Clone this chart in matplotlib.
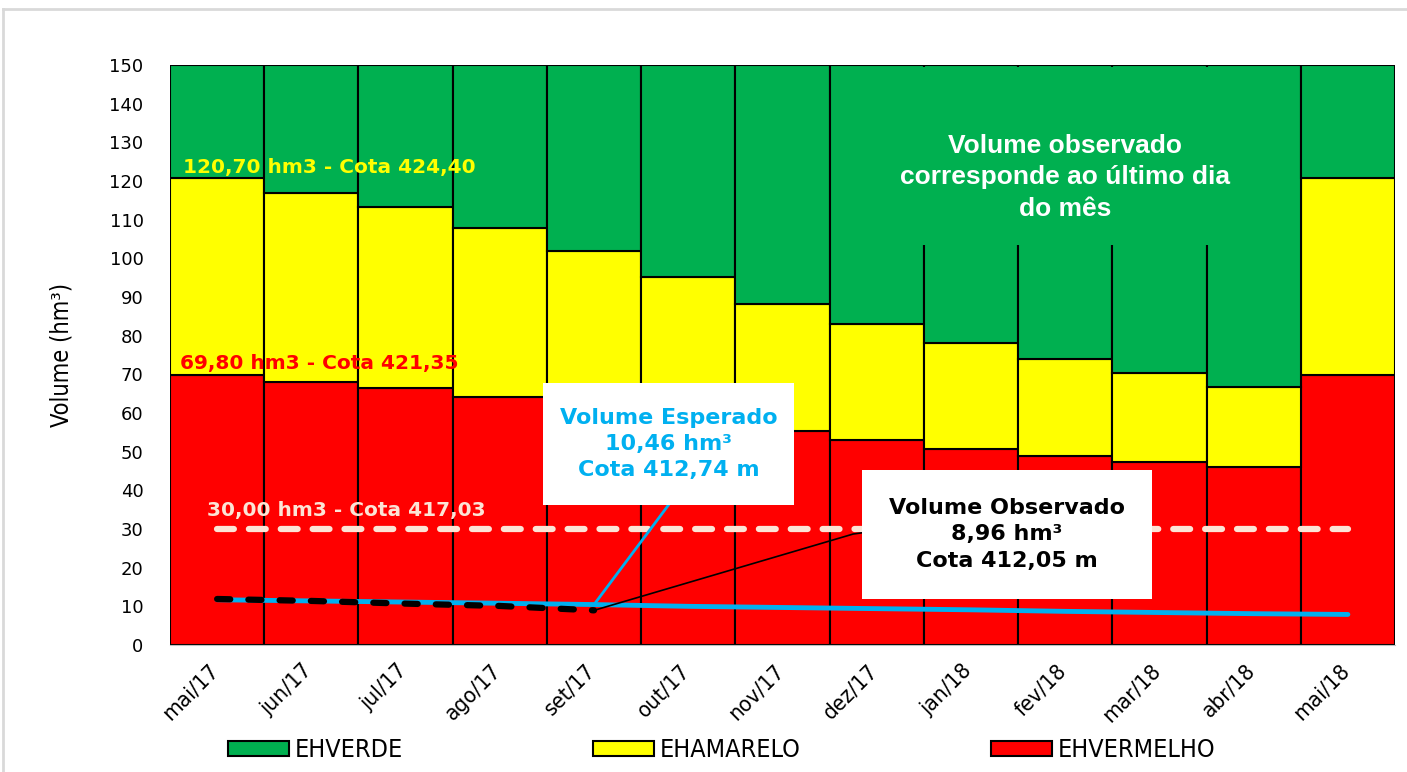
import numpy as np
import matplotlib.pyplot as plt
from matplotlib.lines import Line2D
from matplotlib.patches import Rectangle
from matplotlib.transforms import ScaledTranslation
from matplotlib.font_manager import FontProperties

# volume bands per month (hm3), stacked: vermelho + amarelo + verde = 150
meses = ["mai/17", "jun/17", "jul/17", "ago/17", "set/17", "out/17", "nov/17",
         "dez/17", "jan/18", "fev/18", "mar/18", "abr/18", "mai/18"]
ehvermelho = [69.8, 68.0, 66.5, 64.1, 61.6, 58.8, 55.3, 53.0, 50.7, 48.9, 47.3, 46.0, 69.8]
ehamarelo = [50.9, 48.9, 46.8, 43.7, 40.3, 36.4, 32.9, 30.0, 27.4, 25.1, 23.0, 20.7, 50.9]
ehverde = [29.3, 33.1, 36.7, 42.2, 48.1, 54.8, 61.8, 67.0, 71.9, 76.0, 79.7, 83.3, 29.3]

vol_esperado = [11.7, 11.4, 11.1, 10.8, 10.46, 10.0, 9.7, 9.4, 9.1, 8.7, 8.4, 8.1, 7.9]
vol_observado = [11.9, 11.4, 10.7, 10.1, 8.96]
limite_30 = 30.0

VERDE = "#00B050"
AMARELO = "#FFFF00"
VERMELHO = "#FF0000"
AZUL = "#00B0F0"
PESSEGO = "#FCE4D6"


def narrow(size):
    return FontProperties(family="DejaVu Sans", stretch="condensed", size=size)


fig = plt.figure(figsize=(14.07, 7.72), dpi=100)
ax = fig.add_axes([170 / 1407, 1 - 645 / 772, 1225 / 1407, 580 / 772])

x = np.arange(len(meses))
red = np.array(ehvermelho)
yel = np.array(ehamarelo)
grn = np.array(ehverde)

ax.bar(x, red, width=1.0, color=VERMELHO, edgecolor="black", linewidth=1.5, zorder=2)
ax.bar(x, yel, width=1.0, bottom=red, color=AMARELO, edgecolor="black", linewidth=1.5, zorder=2)
ax.bar(x, grn, width=1.0, bottom=red + yel, color=VERDE, edgecolor="black", linewidth=1.5, zorder=2)

# green note box hides the bar separators behind it
ax.add_patch(Rectangle((6.62, 103.5), 4.76, 46.0, facecolor=VERDE, edgecolor="none", zorder=3))
ax.text(9.0, 121.0, "Volume observado\ncorresponde ao último dia\ndo mês", color="white",
        fontsize=19, fontweight="bold", family=["Liberation Sans", "DejaVu Sans"],
        ha="center", va="center", linespacing=1.4, zorder=4)

# reference line at 30 hm3
ax.plot(x, [limite_30] * len(x), color=PESSEGO, lw=4.5, linestyle=(0, (2.7, 2.4)),
        dash_capstyle="round", zorder=5)

ax.plot(x, vol_esperado, color=AZUL, lw=3.5, solid_capstyle="round", zorder=6)
ax.plot(x[:len(vol_observado)], vol_observado, color="black", lw=4.5,
        linestyle=(0, (2.1, 2.9)), dash_capstyle="round", zorder=7)

ax.text(-0.36, 123.6, "120,70 hm3 - Cota 424,40", color=AMARELO, fontsize=14.5,
        fontweight="bold", va="center", zorder=8)
ax.text(-0.39, 72.9, "69,80 hm3 - Cota 421,35", color=VERMELHO, fontsize=14.5,
        fontweight="bold", va="center", zorder=8)
ax.text(-0.11, 34.9, "30,00 hm3 - Cota 417,03", color=PESSEGO, fontsize=14.5,
        fontweight="bold", va="center", zorder=8)

# leader lines
ax.plot([4.0, 4.79], [vol_esperado[4], 36.2], color=AZUL, lw=2, zorder=8)
ax.plot([4.0, 6.75, 6.84], [vol_observado[4], 28.7, 29.0], color="black", lw=1.2, zorder=8)

ax.add_patch(Rectangle((3.46, 36.2), 2.66, 31.55, facecolor="white", edgecolor="none", zorder=9))
ax.text(4.79, 52.0, "Volume Esperado\n10,46 hm³\nCota 412,74 m", color=AZUL, fontsize=16,
        fontweight="bold", ha="center", va="center", linespacing=1.4, zorder=10)

ax.add_patch(Rectangle((6.84, 11.9), 3.08, 33.35, facecolor="white", edgecolor="none", zorder=9))
ax.text(8.38, 28.6, "Volume Observado\n8,96 hm³\nCota 412,05 m", color="black", fontsize=16,
        fontweight="bold", ha="center", va="center", linespacing=1.4, zorder=10)

ax.set_xlim(-0.5, len(meses) - 0.5)
ax.set_ylim(0, 150)
ax.set_yticks(np.arange(0, 151, 10))
ax.tick_params(axis="y", length=0, pad=19, labelsize=13)
ax.tick_params(axis="x", length=0, pad=6)
ax.set_xticks(x)
ax.set_xticklabels(meses, rotation=45, ha="right", va="center", rotation_mode="anchor",
                   fontproperties=narrow(16))
for lbl in ax.get_xticklabels():
    lbl.set_transform(lbl.get_transform() + ScaledTranslation(-0.02, -0.14, fig.dpi_scale_trans))
for s in ["top", "left", "right"]:
    ax.spines[s].set_visible(False)
ax.spines["bottom"].set_color("#BFBFBF")

fig.text(62 / 1407, 1 - 355 / 772, "Volume (hm³)", rotation=90, ha="center", va="center",
         fontproperties=narrow(17))

handles = [Rectangle((0, 0), 1, 1, facecolor=c, edgecolor="black", linewidth=1.5)
           for c in (VERDE, AMARELO, VERMELHO)]
fig.legend(handles, ["EHVERDE", "EHAMARELO", "EHVERMELHO"], loc="center left",
           bbox_to_anchor=(228 / 1407, 1 - 750 / 772), ncol=3, frameon=False,
           prop=narrow(18), handlelength=2.45, handleheight=0.55,
           handletextpad=0.22, columnspacing=7.6, borderpad=0, borderaxespad=0)

# outer chart frame
fig.add_artist(Line2D([3 / 1407, 3 / 1407], [0, 1 - 9 / 772], color="#D9D9D9", lw=2))
fig.add_artist(Line2D([3 / 1407, 1], [1 - 9 / 772, 1 - 9 / 772], color="#D9D9D9", lw=2))

fig.savefig("out.png", dpi=100)
